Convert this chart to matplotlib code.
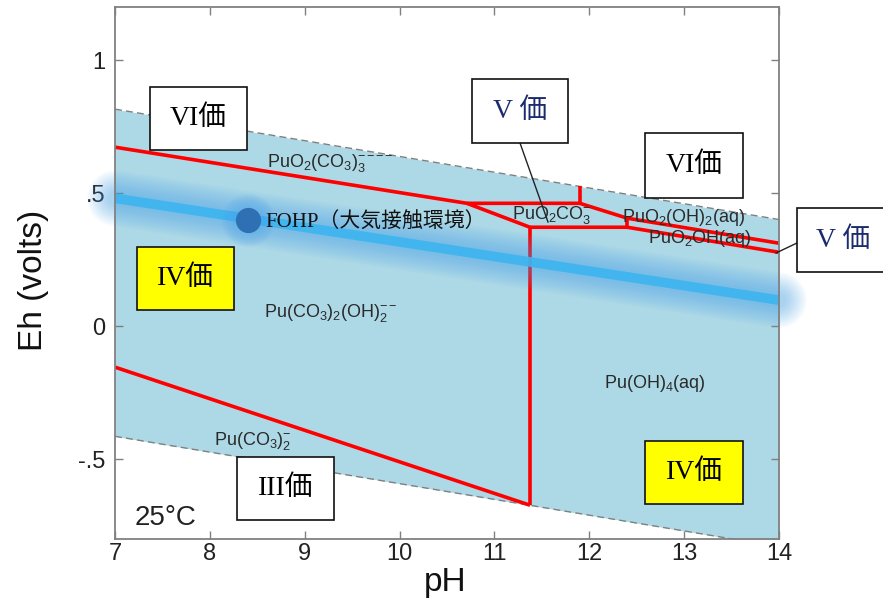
import matplotlib
matplotlib.use("Agg")
import matplotlib.pyplot as plt
from matplotlib.patches import Rectangle
from matplotlib.lines import Line2D
import numpy as np

plt.rcParams['font.family'] = ['Liberation Sans', 'Noto Sans CJK JP', 'DejaVu Sans']
plt.rcParams['mathtext.fontset'] = 'custom'
plt.rcParams['mathtext.rm'] = 'Liberation Sans'
plt.rcParams['mathtext.it'] = 'Liberation Sans:italic'
plt.rcParams['mathtext.bf'] = 'Liberation Sans:bold'

# ---------------- data ----------------
ph_range = [7, 14]
o2_eh = [0.816, 0.401]            # upper water stability limit
h2_eh = [-0.414, -0.829]          # lower water stability limit

# Pu species boundaries (pH, Eh) polylines
bnd_upper_left = ([7.0, 10.71, 11.375], [0.673, 0.462, 0.372])
bnd_pu6_pu5 = ([10.71, 11.90, 12.40, 14.0], [0.462, 0.462, 0.406, 0.312])
bnd_pu6_short = ([11.90, 11.90], [0.462, 0.526])
bnd_pu5_pu4 = ([11.375, 12.40, 14.0], [0.372, 0.372, 0.278])
bnd_pu5_mid = ([12.40, 12.40], [0.372, 0.406])
bnd_pu4_vert = ([11.375, 11.375], [0.372, -0.673])
bnd_pu4_pu3 = ([7.0, 11.375], [-0.154, -0.673])
boundaries = [bnd_upper_left, bnd_pu6_pu5, bnd_pu6_short, bnd_pu5_pu4,
              bnd_pu5_mid, bnd_pu4_vert, bnd_pu4_pu3]

# atmosphere-contact (FOHP) Eh trend line
fohp_line_ph = [7, 14]
fohp_line_eh = [0.481, 0.098]
fohp_point = (8.40, 0.40)

species_labels = [
    (r'$\mathrm{PuO_2(CO_3)_3^{{-}\,{-}\,{-}\,{-}}}$', 9.27, 0.613),
    (r'$\mathrm{PuO_2CO_3^{-}}$', 11.61, 0.417),
    (r'$\mathrm{PuO_2(OH)_2(aq)}$', 12.99, 0.408),
    (r'$\mathrm{PuO_2OH(aq)}$', 13.17, 0.330),
    (r'$\mathrm{Pu(CO_3)_2(OH)_2^{{-}\,{-}}}$', 9.27, 0.049),
    (r'$\mathrm{Pu(OH)_4(aq)}$', 12.69, -0.214),
    (r'$\mathrm{Pu(CO_3)_2^{-}}$', 8.45, -0.430),
]

xticks = [7, 8, 9, 10, 11, 12, 13, 14]
yticks = [1.0, 0.5, 0.0, -0.5]
ytick_labels = ['1', '.5', '0', '-.5']

# valence boxes: text, x0, y0, x1, y1 (pixels, from top-left), face colour
valence_boxes = [
    ('VI価', 150, 87, 247, 150, 'white', 'black'),
    ('V 価', 472, 79, 568, 143, 'white', '#1c2b6e'),
    ('VI価', 645, 133, 743, 198, 'white', 'black'),
    ('V 価', 797, 208, 897, 272, 'white', '#1c2b6e'),
    ('IV価', 137, 247, 234, 310, '#ffff00', 'black'),
    ('IV価', 645, 441, 743, 504, '#ffff00', 'black'),
    ('III価', 237, 457, 334, 520, 'white', 'black'),
]
leaders = [((520, 143), (548, 222)), ((797, 243), (776, 253))]

W, H = 883, 601
fig = plt.figure(figsize=(W / 100, H / 100), dpi=100)
ax = fig.add_axes([115 / W, 1 - 539 / H, 664 / W, 532 / H])
ax.set_xlim(7, 14)
ax.set_ylim(-0.8, 1.2)

ph = np.array(ph_range, dtype=float)
ax.fill_between(ph, h2_eh, o2_eh, color='#add8e6', lw=0, zorder=1)
ax.plot(ph, o2_eh, color='#808080', lw=1.0, ls=(0, (5, 3)), zorder=2)
ax.plot(ph, h2_eh, color='#808080', lw=1.0, ls=(0, (5, 3)), zorder=2)

for bx, by in boundaries:
    ax.plot(bx, by, color='#ff0000', lw=2.6, solid_capstyle='butt',
            solid_joinstyle='miter', zorder=3)

# glowing blue trend line
for lw in np.arange(40, 8, -2):
    ax.plot(fohp_line_ph, fohp_line_eh, color='#4aa6ee', lw=lw, alpha=0.035,
            solid_capstyle='round', clip_on=False, zorder=4)
ax.plot(fohp_line_ph, fohp_line_eh, color='#3db5f0', lw=7, alpha=0.9,
        solid_capstyle='butt', zorder=4)

for s in np.arange(1500, 400, -100):
    ax.scatter([fohp_point[0]], [fohp_point[1]], s=s, color='#4aa6ee',
               alpha=0.04, lw=0, zorder=5)
ax.scatter([fohp_point[0]], [fohp_point[1]], s=330, color='#2f70b4',
           lw=0, zorder=5)
ax.text(8.59, 0.39, 'FOHP（大気接触環境）', fontsize=15, color='#111111',
        family=['Liberation Serif', 'Noto Sans CJK JP'], ha='left',
        va='center', zorder=6)

for txt, x, y in species_labels:
    ax.text(x, y, txt, fontsize=13, color='#2a2a2a', ha='center',
            va='center', zorder=6)
ax.text(7.53, -0.72, '25°C', fontsize=20, color='#222222', ha='center',
        va='center', zorder=6)

ax.set_xticks(xticks)
ax.set_yticks(yticks)
ax.set_yticklabels(ytick_labels)
ax.tick_params(direction='in', length=6, width=1, color='#808080',
               top=True, right=True, labelsize=17, labelcolor='#222222')
ax.tick_params(axis='x', pad=3)
ax.tick_params(axis='y', pad=7)
for sp in ax.spines.values():
    sp.set_color('#808080')
    sp.set_linewidth(1.3)
    sp.set_zorder(7)

ax.set_xlabel('pH', fontsize=24, color='#111111')
ax.set_ylabel('Eh (volts)', fontsize=24, color='#111111')
ax.xaxis.set_label_coords(0.497, -0.052)
ax.yaxis.set_label_coords(-0.10, 0.487)


def fx(x):
    return x / W


def fy(y):
    return 1 - y / H


for (x0, y0), (x1, y1) in leaders:
    fig.add_artist(Line2D([fx(x0), fx(x1)], [fy(y0), fy(y1)],
                          transform=fig.transFigure, color='#222222',
                          lw=1.0, zorder=8))

for txt, x0, y0, x1, y1, fc, tc in valence_boxes:
    fig.add_artist(Rectangle((fx(x0), fy(y1)), (x1 - x0) / W, (y1 - y0) / H,
                             transform=fig.transFigure, facecolor=fc,
                             edgecolor='#111111', lw=1.2, zorder=9))
    fig.text(fx((x0 + min(x1, 890)) / 2), fy((y0 + y1) / 2), txt,
             fontsize=20, color=tc, ha='center', va='center',
             family=['Liberation Serif', 'Noto Sans CJK JP'], zorder=10)

fig.savefig('out.png', dpi=100)
